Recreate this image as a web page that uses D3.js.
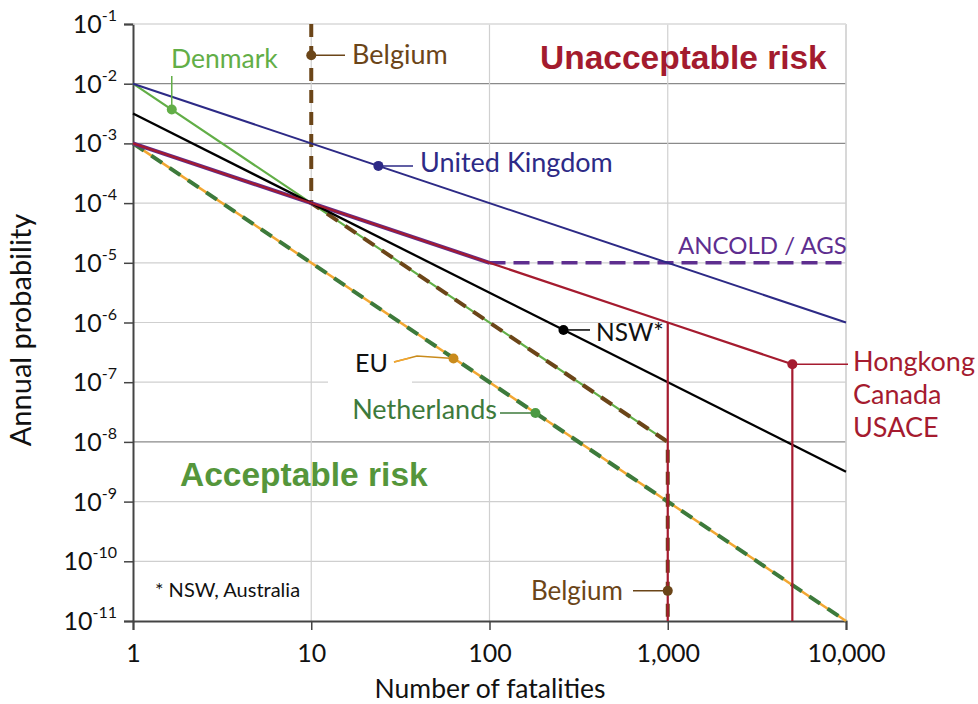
<!DOCTYPE html>
<html>
<head>
<meta charset="utf-8">
<script src="https://cdn.jsdelivr.net/npm/d3@7"></script>
<style>
  body { margin: 0; background: #fff; }
  svg text { font-family: Lato, "Open Sans", sans-serif; }
</style>
</head>
<body>
<div id="chart"></div>
<script>
// F-N chart: annual probability vs number of fatalities

const width = 978;
const height = 704;
const margin = {left: 133, right: 132, top: 24, bottom: 83};

// tick values
const xTicks = [1, 10, 100, 1000, 10000];
const xTickLabels = ["1", "10", "100", "1,000", "10,000"];
const yExponents = [-1, -2, -3, -4, -5, -6, -7, -8, -9, -10, -11];
const darkGrid = [-2, -3, -8];

// criterion lines (fatalities, probability)
const ukN = [1, 10000];
const ukP = [1e-2, 1e-6];
const denmarkN = [1, 10, 1000];
const denmarkP = [1e-2, 1e-4, 1e-8];
const belgiumN = [10, 10, 1000, 1000];
const belgiumP = [1e-1, 1e-4, 1e-8, 1e-11];
const nswN = [1, 10000];
const nswP = [3.16e-3, 3.16e-9];
const hkN = [1, 1000, 5000, 5000];
const hkP = [1e-3, 1e-6, 2e-7, 1e-11];
const hkCutN = [1000, 1000];
const hkCutP = [1e-6, 1e-11];
const ancoldN = [1, 100];
const ancoldP = [1e-3, 1e-5];
const ancoldFlatN = [100, 10000];
const ancoldFlatP = [1e-5, 1e-5];
const euN = [1, 10000];
const euP = [1e-3, 1e-11];

// label markers
const markerNames = ["Denmark", "BelgiumTop", "UK", "NSW", "EU", "Netherlands", "HK", "BelgiumBottom"];
const markerN = [1.65, 10, 23.8, 260, 62.8, 181, 5000, 1000];
const markerP = [3.7e-3, 3.0e-2, 4.2e-4, 7.5e-7, 2.5e-7, 3.05e-8, 2e-7, 3.2e-11];

const colors = {
  uk: "#2d2a86", denmark: "#62ae47", belgium: "#6b4518", nsw: "#000000",
  hk: "#a51b2f", ancold: "#5e2e8f", eu: "#f2a732", eumark: "#c98b1c",
  nl: "#3d7a3b", accept: "#55963b"
};

const svg = d3.select("#chart")
  .append("svg")
  .attr("width", width)
  .attr("height", height);

const x = d3.scaleLog()
  .domain([1, 10000])
  .range([margin.left, width - margin.right]);

const y = d3.scaleLog()
  .domain([1e-11, 1e-1])
  .range([height - margin.bottom, margin.top]);

const pts = (ns, ps) => ns.map((n, i) => [n, ps[i]]);
const line = d3.line().x(d => x(d[0])).y(d => y(d[1]));

// grid
svg.append("g")
  .selectAll("line")
  .data(yExponents.slice(0, -1))
  .join("line")
    .attr("x1", x(1)).attr("x2", x(10000))
    .attr("y1", e => y(Math.pow(10, e))).attr("y2", e => y(Math.pow(10, e)))
    .attr("stroke", e => darkGrid.includes(e) ? "#8a8a8a" : "#cfcfcf")
    .attr("stroke-width", 1.2);

svg.append("g")
  .selectAll("line")
  .data(xTicks.slice(1))
  .join("line")
    .attr("x1", d => x(d)).attr("x2", d => x(d))
    .attr("y1", y(1e-1)).attr("y2", y(1e-11))
    .attr("stroke", "#d0d0d0")
    .attr("stroke-width", 1.2);

// white box behind EU label
svg.append("rect")
  .attr("x", 328).attr("y", 348).attr("width", 84).attr("height", 36)
  .attr("fill", "#fff");

// axes
const yAxis = svg.append("g")
  .attr("transform", `translate(${x(1)},0)`)
  .call(d3.axisLeft(y).tickValues(yExponents.map(e => Math.pow(10, e))).tickSize(9).tickFormat(""));
yAxis.select(".domain").attr("stroke", "#444").attr("stroke-width", 2);
yAxis.selectAll(".tick line").attr("stroke", "#444").attr("stroke-width", 1.5);

const yLab = svg.append("g")
  .selectAll("text")
  .data(yExponents)
  .join("text")
    .attr("x", 117)
    .attr("y", e => y(Math.pow(10, e)) + 9)
    .attr("text-anchor", "end")
    .attr("font-size", 25)
    .attr("fill", "#111");
yLab.append("tspan").text("10");
yLab.append("tspan").text(e => e).attr("font-size", 16).attr("dy", -12);

const xAxis = svg.append("g")
  .attr("transform", `translate(0,${y(1e-11)})`)
  .call(d3.axisBottom(x).tickValues(xTicks).tickSize(9).tickFormat((d, i) => xTickLabels[i]));
xAxis.select(".domain").attr("stroke", "#444").attr("stroke-width", 2);
xAxis.selectAll(".tick line").attr("stroke", "#444").attr("stroke-width", 1.5);
xAxis.selectAll(".tick text")
  .attr("font-size", 25).attr("fill", "#111").attr("dy", 29)
  .style("font-family", "Lato, sans-serif");

// right & top frame
svg.append("line")
  .attr("x1", x(10000)).attr("x2", x(10000)).attr("y1", y(1e-1)).attr("y2", y(1e-11))
  .attr("stroke", "#d0d0d0").attr("stroke-width", 1.2);
svg.append("line")
  .attr("x1", x(1)).attr("x2", x(10000)).attr("y1", y(1e-1)).attr("y2", y(1e-1))
  .attr("stroke", "#e0e0e0").attr("stroke-width", 1.5);

// lines
function draw(ns, ps, color, w, dash) {
  svg.append("path")
    .attr("d", line(pts(ns, ps)))
    .attr("fill", "none")
    .attr("stroke", color)
    .attr("stroke-width", w)
    .attr("stroke-dasharray", dash || null);
}

draw(euN, euP, colors.eu, 2.5);
draw(euN, euP, colors.nl, 4, "13,9");
draw(denmarkN, denmarkP, colors.denmark, 2.2);
draw(belgiumN, belgiumP, colors.belgium, 4, "13,9");
draw(ancoldN, ancoldP, colors.ancold, 4);
draw(ancoldFlatN, ancoldFlatP, colors.ancold, 3.5, "16,8");
draw(nswN, nswP, colors.nsw, 2.3);
draw(ukN, ukP, colors.uk, 2);
draw(hkN, hkP, colors.hk, 2.2);
draw(hkCutN, hkCutP, colors.hk, 2.2);

// leader lines
function leader(coords, color, w) {
  svg.append("polyline")
    .attr("points", coords.map(c => c.join(",")).join(" "))
    .attr("fill", "none").attr("stroke", color).attr("stroke-width", w || 1.5);
}
const mx = i => x(markerN[i]);
const my = i => y(markerP[i]);

leader([[mx(0), my(0)], [mx(0), 76]], colors.denmark);
leader([[mx(1), my(1)], [345, my(1)]], colors.belgium);
leader([[mx(2), my(2)], [413, my(2)]], colors.uk);
leader([[mx(3), my(3)], [590, my(3)]], colors.nsw);
leader([[394, 362], [417, 356], [mx(4), my(4)]], colors.eumark);
leader([[394, 362], [410, 358]], colors.eu);
leader([[mx(5), my(5)], [500, my(5)]], colors.nl);
leader([[mx(6), my(6)], [848, my(6)]], colors.hk);
leader([[mx(7), my(7)], [633, my(7)]], colors.belgium);

const markerColors = [colors.denmark, colors.belgium, colors.uk, colors.nsw, colors.eumark, "#4c9a44", colors.hk, colors.belgium];
svg.append("g")
  .selectAll("circle")
  .data(markerNames)
  .join("circle")
    .attr("cx", (d, i) => x(markerN[i]))
    .attr("cy", (d, i) => y(markerP[i]))
    .attr("r", 5)
    .attr("fill", (d, i) => markerColors[i]);

// labels
function label(txt, lx, ly, color, size, anchor, weight, family) {
  return svg.append("text")
    .attr("x", lx).attr("y", ly)
    .attr("fill", color)
    .attr("font-size", size)
    .attr("text-anchor", anchor || "start")
    .attr("font-weight", weight || "normal")
    .style("font-family", family || null)
    .text(txt);
}

label("Denmark", 171, 68, colors.denmark, 26.5);
label("Belgium", 352, 64, colors.belgium, 27);
label("United Kingdom", 420, 172, colors.uk, 27);
label("ANCOLD / AGS", 678, 254, colors.ancold, 24);
label("NSW*", 596, 341, "#111", 24.5);
label("EU", 355, 372, "#111", 25);
label("Netherlands", 497, 419, colors.nl, 27, "end");
label("Belgium", 623, 600, colors.belgium, 26, "end");
label("Hongkong", 853, 371, colors.hk, 27);
label("Canada", 853, 404, colors.hk, 27);
label("USACE", 853, 437, colors.hk, 27);
label("* NSW, Australia", 155, 597, "#111", 20);

label("Unacceptable risk", 540, 69, "#a31b2e", 33.5, "start", "bold", "'Liberation Sans', Arial, sans-serif");
label("Acceptable risk", 180, 486, colors.accept, 33.5, "start", "bold", "'Liberation Sans', Arial, sans-serif");

// axis titles
label("Number of fatalities", 490, 698, "#111", 26.5, "middle");
svg.append("text")
  .attr("transform", `translate(31,${330}) rotate(-90)`)
  .attr("text-anchor", "middle")
  .attr("font-size", 29)
  .attr("fill", "#111")
  .text("Annual probability");
</script>
</body>
</html>
